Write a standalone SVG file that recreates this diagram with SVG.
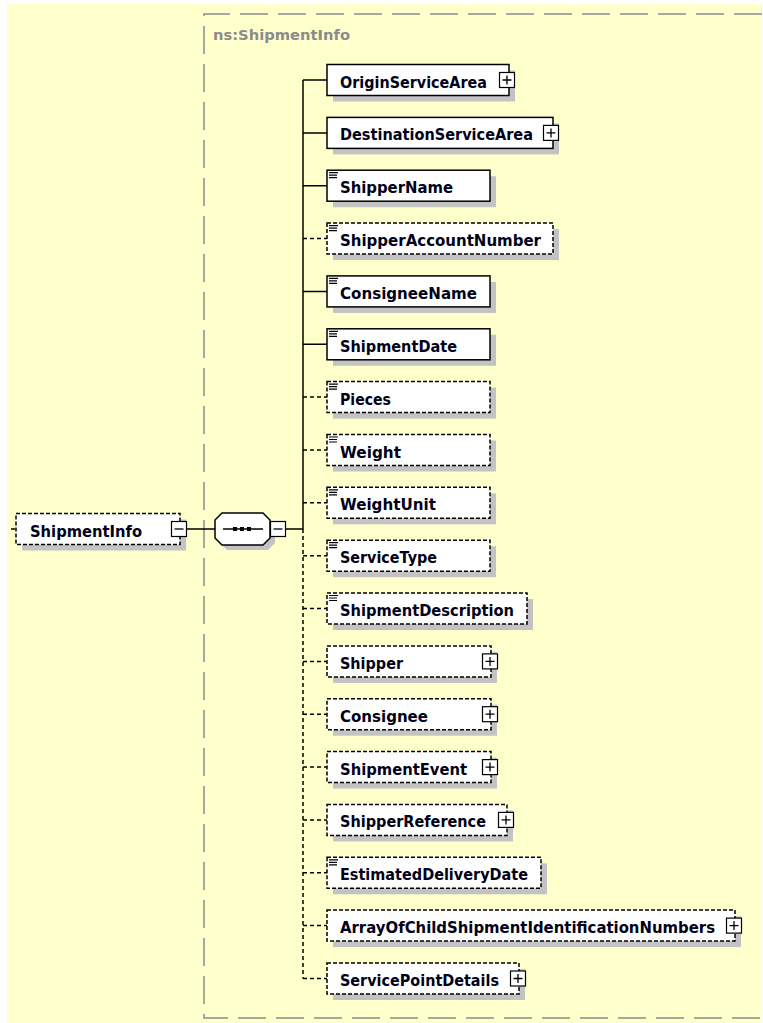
<svg xmlns="http://www.w3.org/2000/svg" width="763" height="1023" viewBox="0 0 763 1023">
<style>
.bg{fill:#ffffcc}
.grp{fill:none;stroke:#8c8c8c;stroke-width:1.5;stroke-dasharray:28 10}
.gl{font-family:"DejaVu Sans",sans-serif;font-weight:bold;font-size:13.5px;fill:#8c8c8c}
.sh{fill:#c3c3c3}
.box{fill:#fff;stroke:#000;stroke-width:1.5}
.opt{stroke-dasharray:4 2}
.lbl{font-family:"DejaVu Sans",sans-serif;font-weight:bold;font-size:15px;fill:#000018}
.ic{fill:#fff;stroke:#000;stroke-width:1.2}
.icl{stroke:#000;stroke-width:1.3;fill:none}
.eq{stroke:#000;stroke-width:1.2;fill:none}
.c{stroke:#000;stroke-width:1.5;fill:none}
.cd{stroke:#000;stroke-width:1.5;fill:none;stroke-dasharray:4 3}
</style>
<defs>
<g id="eq"><path class="eq" d="M2 2.5H11M2 5H10M2 7.5H10"/></g>
</defs>
<rect x="0" y="0" width="763" height="1023" fill="#fff"/>
<rect class="bg" x="7" y="4" width="755" height="1019"/>
<path class="grp" d="M762 14H204V1018H762"/>
<text class="gl" x="213" y="39.5" textLength="137" lengthAdjust="spacingAndGlyphs">ns:ShipmentInfo</text>

<g id="connectors">
<path class="c" d="M187 529H215M285.5 529H303"/>
<path class="c" d="M303 80V529"/>
<path class="cd" d="M303 529V978.5"/>
<path class="c" d="M303 80H327M303 132.9H327M303 185.7H327M303 291.4H327M303 344.3H327"/>
<path class="cd" d="M303 238.6H327M303 397.1H327M303 450H327M303 502.8H327M303 555.7H327M303 608.5H327M303 661.4H327M303 714.2H327M303 767.1H327M303 819.9H327M303 872.8H327M303 925.6H327M303 978.5H327"/>
<path class="c" d="M11 529H15"/>
</g>

<g id="root">
<rect class="sh" x="22" y="519.5" width="164" height="31"/>
<rect class="box opt" x="16" y="513.5" width="164" height="31"/>
<text class="lbl" x="30" y="536.5" textLength="112" lengthAdjust="spacingAndGlyphs">ShipmentInfo</text>
<rect class="ic" x="171.5" y="521.5" width="15" height="15"/>
<path class="icl" d="M174.5 529H183.5"/>
</g>

<g id="sequence">
<polygon class="sh" points="227,518 268,518 275,525 275,543 268,550 227,550 220,543 220,525"/>
<polygon class="box" points="222,513 263,513 270,520 270,538 263,545 222,545 215,538 215,520"/>
<path class="c" d="M223 529H263"/>
<rect x="233" y="527" width="4" height="4" fill="#000"/>
<rect x="240" y="527" width="4" height="4" fill="#000"/>
<rect x="247" y="527" width="4" height="4" fill="#000"/>
<rect class="ic" x="270.5" y="521.5" width="15" height="15"/>
<path class="icl" d="M273.5 529H282.5"/>
</g>

<g id="n-OriginServiceArea">
<rect class="sh" x="333" y="70.5" width="182" height="31"/>
<rect class="box" x="327" y="64.5" width="182" height="31"/>
<text class="lbl" x="340" y="87.5" textLength="147" lengthAdjust="spacingAndGlyphs">OriginServiceArea</text>
<rect class="ic" x="499.5" y="72.5" width="15" height="15"/>
<path class="icl" d="M502.5 80H511.5M507 75.5V84.5"/>
</g>

<g id="n-DestinationServiceArea">
<rect class="sh" x="333" y="123.4" width="226" height="31"/>
<rect class="box" x="327" y="117.4" width="226" height="31"/>
<text class="lbl" x="340" y="140.4" textLength="193" lengthAdjust="spacingAndGlyphs">DestinationServiceArea</text>
<rect class="ic" x="543.5" y="125.4" width="15" height="15"/>
<path class="icl" d="M546.5 132.9H555.5M551 128.4V137.4"/>
</g>

<g id="n-ShipperName">
<rect class="sh" x="333" y="176.2" width="163" height="31"/>
<rect class="box" x="327" y="170.2" width="163" height="31"/>
<use href="#eq" x="327" y="170.2"/>
<text class="lbl" x="340" y="193.2" textLength="113" lengthAdjust="spacingAndGlyphs">ShipperName</text>
</g>

<g id="n-ShipperAccountNumber">
<rect class="sh" x="333" y="229.1" width="226" height="31"/>
<rect class="box opt" x="327" y="223.1" width="226" height="31"/>
<use href="#eq" x="327" y="223.1"/>
<text class="lbl" x="340" y="246.1" textLength="201" lengthAdjust="spacingAndGlyphs">ShipperAccountNumber</text>
</g>

<g id="n-ConsigneeName">
<rect class="sh" x="333" y="281.9" width="163" height="31"/>
<rect class="box" x="327" y="275.9" width="163" height="31"/>
<use href="#eq" x="327" y="275.9"/>
<text class="lbl" x="340" y="298.9" textLength="137" lengthAdjust="spacingAndGlyphs">ConsigneeName</text>
</g>

<g id="n-ShipmentDate">
<rect class="sh" x="333" y="334.8" width="163" height="31"/>
<rect class="box" x="327" y="328.8" width="163" height="31"/>
<use href="#eq" x="327" y="328.8"/>
<text class="lbl" x="340" y="351.8" textLength="117" lengthAdjust="spacingAndGlyphs">ShipmentDate</text>
</g>

<g id="n-Pieces">
<rect class="sh" x="333" y="387.6" width="163" height="31"/>
<rect class="box opt" x="327" y="381.6" width="163" height="31"/>
<use href="#eq" x="327" y="381.6"/>
<text class="lbl" x="340" y="404.6" textLength="51" lengthAdjust="spacingAndGlyphs">Pieces</text>
</g>

<g id="n-Weight">
<rect class="sh" x="333" y="440.5" width="163" height="31"/>
<rect class="box opt" x="327" y="434.5" width="163" height="31"/>
<use href="#eq" x="327" y="434.5"/>
<text class="lbl" x="340" y="457.5" textLength="61" lengthAdjust="spacingAndGlyphs">Weight</text>
</g>

<g id="n-WeightUnit">
<rect class="sh" x="333" y="493.3" width="163" height="31"/>
<rect class="box opt" x="327" y="487.3" width="163" height="31"/>
<use href="#eq" x="327" y="487.3"/>
<text class="lbl" x="340" y="510.3" textLength="96" lengthAdjust="spacingAndGlyphs">WeightUnit</text>
</g>

<g id="n-ServiceType">
<rect class="sh" x="333" y="546.2" width="163" height="31"/>
<rect class="box opt" x="327" y="540.2" width="163" height="31"/>
<use href="#eq" x="327" y="540.2"/>
<text class="lbl" x="340" y="563.2" textLength="97" lengthAdjust="spacingAndGlyphs">ServiceType</text>
</g>

<g id="n-ShipmentDescription">
<rect class="sh" x="333" y="599" width="200" height="31"/>
<rect class="box opt" x="327" y="593" width="200" height="31"/>
<use href="#eq" x="327" y="593"/>
<text class="lbl" x="340" y="616" textLength="174" lengthAdjust="spacingAndGlyphs">ShipmentDescription</text>
</g>

<g id="n-Shipper">
<rect class="sh" x="333" y="651.9" width="164" height="31"/>
<rect class="box opt" x="327" y="645.9" width="164" height="31"/>
<text class="lbl" x="340" y="668.9" textLength="63" lengthAdjust="spacingAndGlyphs">Shipper</text>
<rect class="ic" x="482.5" y="653.9" width="15" height="15"/>
<path class="icl" d="M485.5 661.4H494.5M490 656.9V665.9"/>
</g>

<g id="n-Consignee">
<rect class="sh" x="333" y="704.7" width="164" height="31"/>
<rect class="box opt" x="327" y="698.7" width="164" height="31"/>
<text class="lbl" x="340" y="721.7" textLength="88" lengthAdjust="spacingAndGlyphs">Consignee</text>
<rect class="ic" x="482.5" y="706.7" width="15" height="15"/>
<path class="icl" d="M485.5 714.2H494.5M490 709.7V718.7"/>
</g>

<g id="n-ShipmentEvent">
<rect class="sh" x="333" y="757.6" width="164" height="31"/>
<rect class="box opt" x="327" y="751.6" width="164" height="31"/>
<text class="lbl" x="340" y="774.6" textLength="127" lengthAdjust="spacingAndGlyphs">ShipmentEvent</text>
<rect class="ic" x="482.5" y="759.6" width="15" height="15"/>
<path class="icl" d="M485.5 767.1H494.5M490 762.6V771.6"/>
</g>

<g id="n-ShipperReference">
<rect class="sh" x="333" y="810.4" width="180" height="31"/>
<rect class="box opt" x="327" y="804.4" width="180" height="31"/>
<text class="lbl" x="340" y="827.4" textLength="146" lengthAdjust="spacingAndGlyphs">ShipperReference</text>
<rect class="ic" x="498.5" y="812.4" width="15" height="15"/>
<path class="icl" d="M501.5 819.9H510.5M506 815.4V824.4"/>
</g>

<g id="n-EstimatedDeliveryDate">
<rect class="sh" x="333" y="863.3" width="214" height="31"/>
<rect class="box opt" x="327" y="857.3" width="214" height="31"/>
<use href="#eq" x="327" y="857.3"/>
<text class="lbl" x="340" y="880.3" textLength="188" lengthAdjust="spacingAndGlyphs">EstimatedDeliveryDate</text>
</g>

<g id="n-ArrayOfChildShipmentIdentificationNumbers">
<rect class="sh" x="333" y="916.1" width="408" height="31"/>
<rect class="box opt" x="327" y="910.1" width="408" height="31"/>
<text class="lbl" x="340" y="933.1" textLength="375" lengthAdjust="spacingAndGlyphs">ArrayOfChildShipmentIdentificationNumbers</text>
<rect class="ic" x="726.5" y="918.1" width="15" height="15"/>
<path class="icl" d="M729.5 925.6H738.5M734 921.1V930.1"/>
</g>

<g id="n-ServicePointDetails">
<rect class="sh" x="333" y="969" width="192" height="31"/>
<rect class="box opt" x="327" y="963" width="192" height="31"/>
<text class="lbl" x="340" y="986" textLength="159" lengthAdjust="spacingAndGlyphs">ServicePointDetails</text>
<rect class="ic" x="510.5" y="971" width="15" height="15"/>
<path class="icl" d="M513.5 978.5H522.5M518 974V983"/>
</g>
</svg>
